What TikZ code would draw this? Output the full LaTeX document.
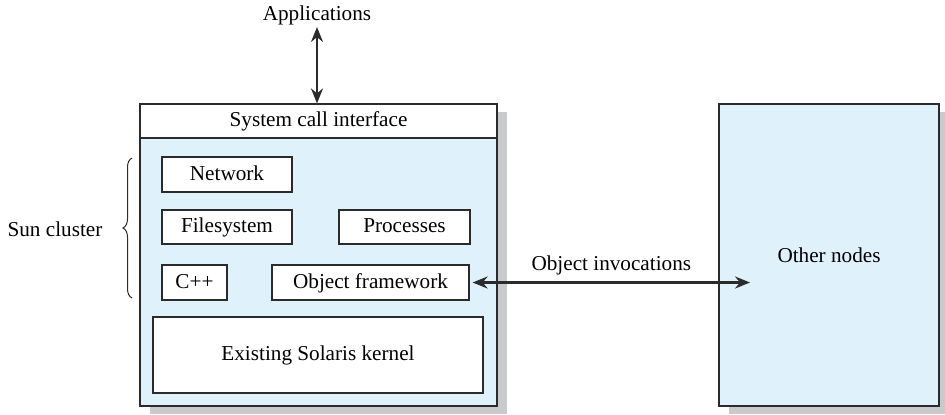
\documentclass[tikz,border=0pt]{standalone}
\usepackage{fontspec}
\setmainfont{Liberation Serif}
\usepackage{tikz}
\usetikzlibrary{arrows.meta,positioning,calc,decorations.pathreplacing}
\definecolor{Ink}{HTML}{2B2B2B}
\definecolor{PaleSky}{HTML}{DFF1FB}
\definecolor{Shade}{HTML}{C9CACC}
\tikzset{
  modbox/.style={draw=Ink, line width=0.6pt, fill=white, align=center, inner sep=0pt, text height=1.6ex, text depth=0.3ex, font=\fontsize{10.6}{12}\selectfont},
  bigbox/.style={draw=Ink, line width=0.6pt, fill=PaleSky, align=center, inner sep=0pt, font=\fontsize{10.6}{12}\selectfont},
  plainlabel/.style={align=center, inner sep=1pt, font=\fontsize{10.6}{12}\selectfont},
  twoway/.style={{Stealth[length=7.5pt,width=6pt,inset=2.5pt]}-{Stealth[length=7.5pt,width=6pt,inset=2.5pt]}, line width=1.2pt, draw=Ink}
}
\begin{document}
\begin{tikzpicture}[x=0.5pt,y=-0.5pt]
  \useasboundingbox (0,0) rectangle (945,414);

  % shadows
  \fill[Shade] (150,112) rectangle (507,414);
  \fill[Shade] (729,112) rectangle (945,414);

  % cluster node
  \node[bigbox, minimum width=178.5pt, minimum height=134pt] (body) at (318.5,272) {};
  \node[modbox, minimum width=178.5pt, minimum height=17pt] (syscall) at (318.5,121) {System call interface};
  \node[modbox, minimum width=65pt, minimum height=17.5pt] (network) at (227,174.5) {Network};
  \node[modbox, minimum width=65pt, minimum height=17pt] (filesys) at (227,227) {Filesystem};
  \node[modbox, minimum width=65.5pt, minimum height=17pt] (procs) at (404.5,227) {Processes};
  \node[modbox, minimum width=32.5pt, minimum height=17.5pt] (cpp) at (194.5,282.5) {C++};
  \node[modbox, minimum width=98.5pt, minimum height=17.5pt] (objfw) at (370.5,282.5) {Object framework};
  \node[modbox, minimum width=165pt, minimum height=38pt] (kernel) at (318,355) {Existing Solaris kernel};

  % other side
  \node[bigbox, minimum width=110pt, minimum height=151pt] (others) at (829,255) {Other nodes};
  \coordinate (invend) at (750,282.5);

  \node[plainlabel] (apps) at (317,15) {Applications};
  \node[plainlabel] (sun) at (55,229) {Sun cluster};

  \draw[twoway] (apps.south) -- (apps.south |- syscall.north);
  \draw[twoway] ([xshift=1.5pt]objfw.east) -- node[plainlabel, above=2pt]{Object invocations} (invend);
  \draw[draw=Ink, line width=0.5pt, decorate, decoration={brace, amplitude=4.5pt}]
    (132,298) -- (132,158);
\end{tikzpicture}
\end{document}
